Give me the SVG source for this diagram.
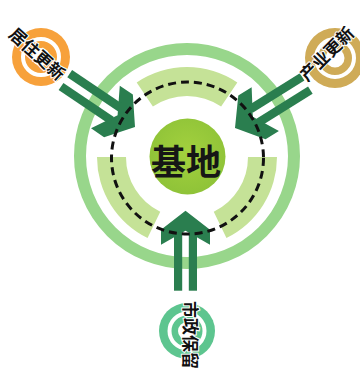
<svg xmlns="http://www.w3.org/2000/svg" xmlns:xlink="http://www.w3.org/1999/xlink" width="360" height="369" viewBox="0 0 360 369">
  <style>
    .seg { fill: #c5e297; }
    .arrow { fill: #2a7e4f; }
    .lbl { font-family: "Noto Sans CJK SC", "Noto Sans", sans-serif; font-weight: 700; font-size: 17px; fill: #111; stroke: #fff; stroke-width: 2; paint-order: stroke; text-anchor: middle; dominant-baseline: central; }
    .main { font-family: "Noto Sans CJK SC", "Noto Sans", sans-serif; font-weight: 700; font-size: 35px; fill: #161616; text-anchor: middle; dominant-baseline: central; }
  </style>
  <defs>
    <radialGradient id="gBase" cx="50%" cy="45%" r="55%">
      <stop offset="0" stop-color="#a3d13e"/>
      <stop offset="1" stop-color="#8fc338"/>
    </radialGradient>
    <g id="arrowShape">
      <polygon points="0,0 24.5,19 24.5,34 0,20 -24.5,34 -24.5,19"/>
      <rect x="-11.5" y="22" width="8.2" height="58"/>
      <rect x="3.3" y="22" width="8.2" height="58"/>
    </g>
  </defs>

  <g id="ring">
    <circle cx="187" cy="156" r="107" fill="none" stroke="#98d68b" stroke-width="12"/>
    <path class="seg" d="M136.67,82.39 A90,90 0 0,1 237.33,82.39 L221.11,106.43 A61,61 0 0,0 152.89,106.43 Z"/>
    <path class="seg" d="M97,157 A90,90 0 0,0 147.55,237.89 L160.26,211.83 A61,61 0 0,1 126,157 Z"/>
    <path class="seg" d="M277,157 A90,90 0 0,1 226.45,237.89 L213.74,211.83 A61,61 0 0,0 248,157 Z"/>
  </g>

  <g id="connectors" class="arrow">
    <use xlink:href="#arrowShape" transform="translate(135,127) rotate(124) scale(1.05)"/>
    <use xlink:href="#arrowShape" transform="translate(235,128) rotate(-122) scale(1.05)"/>
    <use xlink:href="#arrowShape" transform="translate(185.5,210.7)"/>
  </g>

  <circle id="boundary" cx="187.5" cy="158" r="76" fill="none" stroke="#111" stroke-width="3" stroke-dasharray="8 5"/>

  <g id="base">
    <circle cx="187.5" cy="156.5" r="38" fill="url(#gBase)"/>
    <text class="main" x="186" y="159">基地</text>
  </g>

  <g id="residential">
    <circle cx="41" cy="57" r="29" fill="#f7a13b"/>
    <circle cx="41" cy="57" r="18" fill="none" stroke="#fff" stroke-width="4"/>
    <circle cx="41" cy="57" r="9" fill="#fff"/>
    <text class="lbl" transform="translate(38,53) rotate(42)">居住更新</text>
  </g>

  <g id="industry">
    <circle cx="335" cy="58" r="30" fill="#cfab57"/>
    <circle cx="335" cy="58" r="19" fill="none" stroke="#fff" stroke-width="4"/>
    <circle cx="335" cy="58" r="9.5" fill="#fff"/>
    <text class="lbl" transform="translate(326,53) rotate(-45)">产业更新</text>
  </g>

  <g id="municipal">
    <circle cx="187" cy="331" r="28" fill="#5dc58f"/>
    <circle cx="187" cy="331" r="17.5" fill="none" stroke="#fff" stroke-width="4"/>
    <circle cx="187" cy="331" r="9" fill="#fff"/>
    <text class="lbl" transform="translate(191,335) rotate(90)">市政保留</text>
  </g>
</svg>
